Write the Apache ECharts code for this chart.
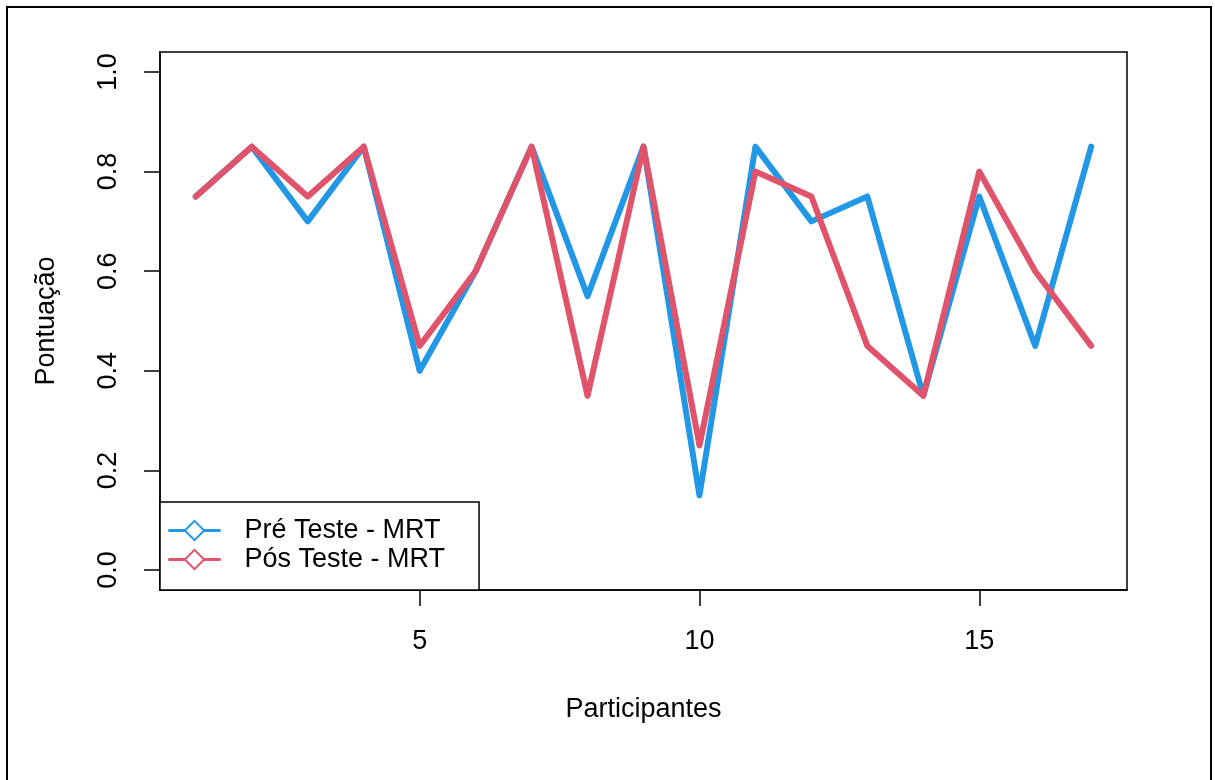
<!DOCTYPE html>
<html>
<head>
<meta charset="utf-8">
<script src="https://cdn.jsdelivr.net/npm/echarts@6/dist/echarts.min.js"></script>
<style>
html,body{margin:0;padding:0;background:#fff;}
#chart{width:1215px;height:780px;}
</style>
</head>
<body>
<div id="chart"></div>
<script>
const participants = [1,2,3,4,5,6,7,8,9,10,11,12,13,14,15,16,17];
const preTeste = [0.75,0.85,0.70,0.85,0.40,0.60,0.85,0.55,0.85,0.15,0.85,0.70,0.75,0.35,0.75,0.45,0.85];
const posTeste = [0.75,0.85,0.75,0.85,0.45,0.60,0.85,0.35,0.85,0.25,0.80,0.75,0.45,0.35,0.80,0.60,0.45];
const xTicks = [5,10,15];
const yTicks = [0,0.2,0.4,0.6,0.8,1.0];
const seriesNames = ['Pré Teste - MRT','Pós Teste - MRT'];
const colors = ['#2297E6','#DF536B'];

const FONT = 'Liberation Sans, Arial, sans-serif';
const chart = echarts.init(document.getElementById('chart'));
const pairs = (ys) => participants.map((x,i)=>[x, ys[i]]);

chart.setOption({
  animation:false,
  backgroundColor:'#fff',
  graphic:[{
    type:'rect', shape:{x:7,y:7,width:1204,height:790},
    style:{fill:'none',stroke:'#000',lineWidth:2}, z:100
  }],
  grid:{left:160,top:52,right:88,bottom:190,show:true,borderColor:'#000',borderWidth:1.5,backgroundColor:'transparent'},
  xAxis:{
    type:'value', min:0.36, max:17.64, position:'bottom',
    name:'Participantes', nameLocation:'middle', nameGap:106,
    nameTextStyle:{fontFamily:FONT,fontSize:27,color:'#000'},
    splitLine:{show:false},
    axisLine:{show:true,onZero:false,lineStyle:{color:'#000',width:1.5}},
    axisTick:{show:true,length:16,inside:false,customValues:xTicks,lineStyle:{color:'#000',width:1.5}},
    axisLabel:{customValues:xTicks,margin:38,fontFamily:FONT,fontSize:27,color:'#000',formatter:v=>String(v)}
  },
  yAxis:{
    type:'value', min:-0.04, max:1.04, position:'left',
    name:'Pontuação', nameLocation:'middle', nameGap:100, nameRotate:90,
    nameTextStyle:{fontFamily:FONT,fontSize:27,color:'#000'},
    splitLine:{show:false},
    axisLine:{show:true,onZero:false,lineStyle:{color:'#000',width:1.5}},
    axisTick:{show:true,length:16,inside:false,customValues:yTicks,lineStyle:{color:'#000',width:1.5}},
    axisLabel:{customValues:yTicks,rotate:90,margin:38,fontFamily:FONT,fontSize:27,color:'#000',formatter:v=>v.toFixed(1)}
  },
  legend:{
    orient:'vertical', left:160, top:502,
    data:seriesNames,
    backgroundColor:'#fff', borderColor:'#000', borderWidth:1.5, borderRadius:0,
    padding:[15,34,17,8],
    itemWidth:50, itemHeight:24, itemGap:2,
    lineStyle:{width:3},
    itemStyle:{borderWidth:3},
    textStyle:{fontFamily:FONT,fontSize:27,color:'#000',padding:[0,0,0,20]}
  },
  series:[
    {name:seriesNames[0],type:'line',data:pairs(preTeste),symbol:'emptyDiamond',symbolSize:[16,20],showSymbol:false,
     color:colors[0],lineStyle:{width:6,cap:'round',join:'round',color:colors[0]},itemStyle:{color:colors[0]},z:2},
    {name:seriesNames[1],type:'line',data:pairs(posTeste),symbol:'emptyDiamond',symbolSize:[16,20],showSymbol:false,
     color:colors[1],lineStyle:{width:6,cap:'round',join:'round',color:colors[1]},itemStyle:{color:colors[1]},z:3}
  ]
});
</script>
</body>
</html>
